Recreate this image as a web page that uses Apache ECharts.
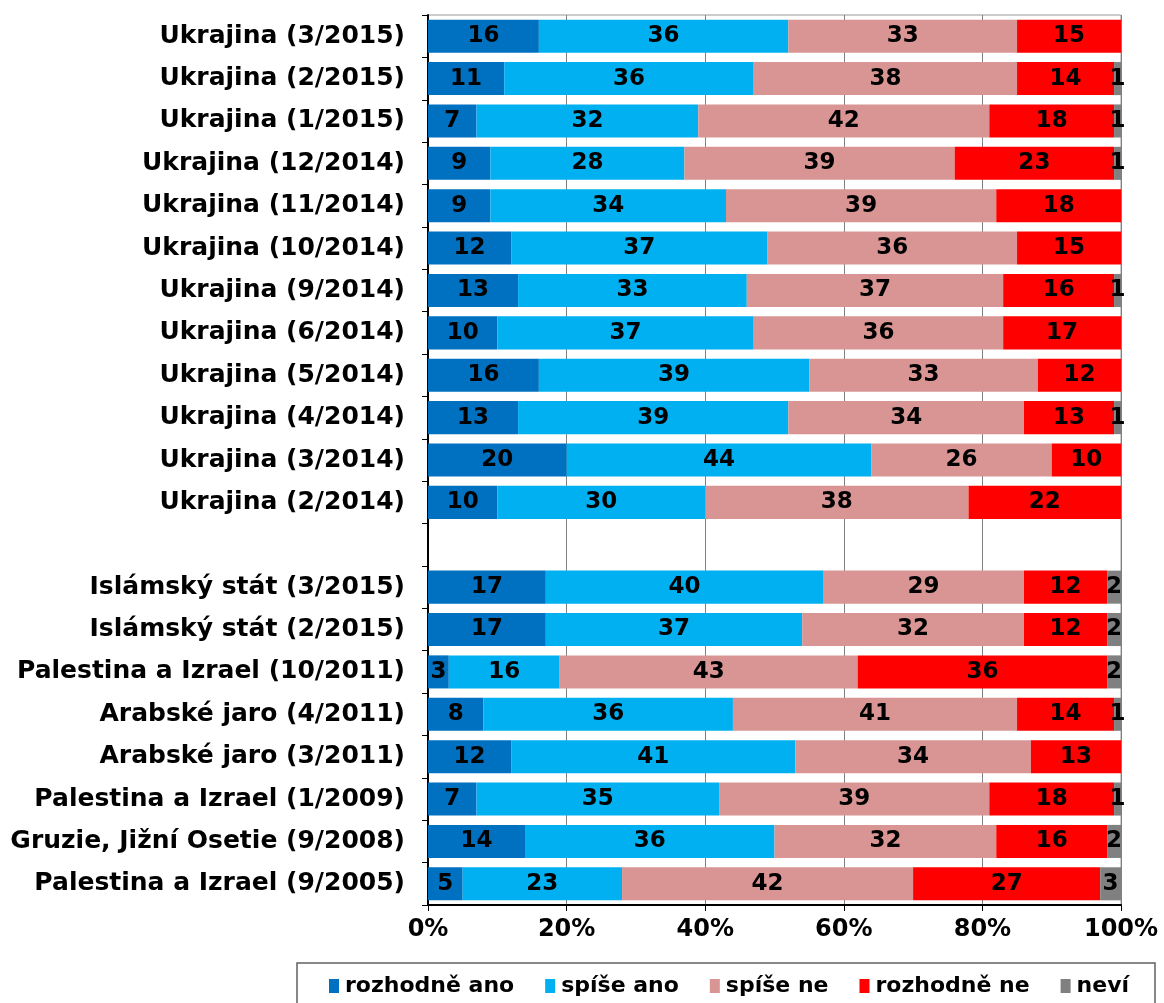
<!DOCTYPE html>
<html><head><meta charset="utf-8">
<script src="https://cdn.jsdelivr.net/npm/echarts@6/dist/echarts.min.js"></script>
<style>html,body{margin:0;padding:0;background:#fff}#c{width:1164px;height:1003px}</style>
</head><body><div id="c"></div>
<script>
const categories = [
 'Ukrajina (3/2015)','Ukrajina (2/2015)','Ukrajina (1/2015)','Ukrajina (12/2014)','Ukrajina (11/2014)',
 'Ukrajina (10/2014)','Ukrajina (9/2014)','Ukrajina (6/2014)','Ukrajina (5/2014)','Ukrajina (4/2014)',
 'Ukrajina (3/2014)','Ukrajina (2/2014)','',
 'Islámský stát (3/2015)','Islámský stát (2/2015)','Palestina a Izrael (10/2011)','Arabské jaro (4/2011)',
 'Arabské jaro (3/2011)','Palestina a Izrael (1/2009)','Gruzie, Jižní Osetie (9/2008)','Palestina a Izrael (9/2005)'
];
const seriesNames = ['rozhodně ano','spíše ano','spíše ne','rozhodně ne','neví'];
const rozhodneAno = [16,11,7,9,9,12,13,10,16,13,20,10,null,17,17,3,8,12,7,14,5];
const spiseAno    = [36,36,32,28,34,37,33,37,39,39,44,30,null,40,37,16,36,41,35,36,23];
const spiseNe     = [33,38,42,39,39,36,37,36,33,34,26,38,null,29,32,43,41,34,39,32,42];
const rozhodneNe  = [15,14,18,23,18,15,16,17,12,13,10,22,null,12,12,36,14,13,18,16,27];
const nevi        = [0,1,1,1,0,0,1,0,0,1,0,0,null,2,2,2,1,0,1,2,3];
const xTicks = [0,20,40,60,80,100];

const colors = ['#0070C0','#00B0F0','#D99594','#FF0000','#808080'];
const values = [rozhodneAno, spiseAno, spiseNe, rozhodneNe, nevi];
const FONT = 'DejaVu Sans';

const chart = echarts.init(document.getElementById('c'));
chart.setOption({
  animation:false,
  textStyle:{fontFamily:FONT},
  grid:{left:428, right:43, top:15, bottom:98, show:true, borderColor:'#9a9a9a', borderWidth:1},
  legend:{
    data:seriesNames, left:329, top:975, itemWidth:10, itemHeight:14, itemGap:31,
    icon:'rect', padding:0,
    textStyle:{fontFamily:FONT, fontWeight:'bold', fontSize:22, color:'#000', padding:[0,0,0,1]}
  },
  xAxis:{
    type:'value', min:0, max:100, interval:20,
    axisLine:{show:true, lineStyle:{color:'#000', width:2}},
    axisTick:{show:true, length:6, lineStyle:{color:'#000'}},
    splitLine:{show:true, lineStyle:{color:'#808080', width:1}},
    axisLabel:{formatter:'{value}%', fontFamily:FONT, fontWeight:'bold', fontSize:24, color:'#000', margin:13,
      customValues: xTicks}
  },
  yAxis:{
    type:'category', data:categories, inverse:true,
    axisLine:{show:true, lineStyle:{color:'#000', width:2}},
    axisTick:{show:true, length:6, lineStyle:{color:'#000'}},
    axisLabel:{fontFamily:FONT, fontWeight:'bold', fontSize:25, color:'#000', margin:23}
  },
  series: seriesNames.map((n,i)=>({
    name:n, type:'bar', stack:'a', barCategoryGap:'22%',
    data: values[i],
    itemStyle:{color:colors[i]},
    label:{show:true, position:'inside', fontFamily:FONT, fontWeight:'bold', fontSize:23, color:'#000',
      formatter:p=> (p.value>0 ? String(p.value) : '')}
  })),
  graphic:[{type:'rect', shape:{x:297, y:963, width:858, height:60}, style:{fill:'none', stroke:'#606060', lineWidth:1.5}, z:-1}]
});
</script></body></html>
